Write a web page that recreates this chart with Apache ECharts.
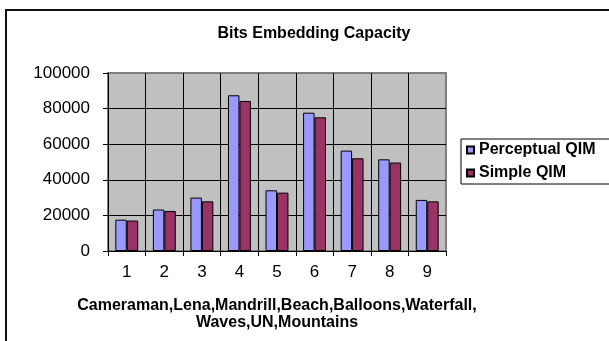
<!DOCTYPE html>
<html>
<head>
<meta charset="utf-8">
<script src="https://cdn.jsdelivr.net/npm/echarts@6/dist/echarts.min.js"></script>
<style>
html,body{margin:0;padding:0;background:#fff;}
#c{width:609px;height:341px;}
</style>
</head>
<body>
<div id="c"></div>
<script>
var categories = ['1','2','3','4','5','6','7','8','9'];
var perceptualQIM = [17600, 23300, 30000, 87500, 34100, 77700, 56400, 51500, 28700];
var simpleQIM = [17100, 22500, 27900, 84300, 32800, 75100, 52100, 49700, 27900];
var seriesNames = ['Perceptual QIM', 'Simple QIM'];
var titleText = 'Bits Embedding Capacity';
var xAxisName = 'Cameraman,Lena,Mandrill,Beach,Balloons,Waterfall,\nWaves,UN,Mountains';

var FONT = 'Liberation Sans, Arial, sans-serif';
var chart = echarts.init(document.getElementById('c'));
chart.setOption({
  backgroundColor: '#ffffff',
  animation: false,
  title: {
    text: titleText,
    left: 309,
    top: 21,
    textAlign: 'center',
    textStyle: {fontFamily: FONT, fontSize: 16, fontWeight: 'bold', color: '#000'}
  },
  legend: {
    orient: 'vertical',
    left: 461,
    top: 139,
    padding: [2, 20, 2, 5],
    itemGap: 5,
    itemWidth: 7,
    itemHeight: 7,
    icon: 'rect',
    borderColor: '#000',
    borderWidth: 1,
    textStyle: {fontFamily: FONT, fontSize: 16, fontWeight: 'bold', color: '#000', lineHeight: 18},
    data: seriesNames
  },
  graphic: [{
    type: 'rect',
    shape: {x: 6, y: 10, width: 700, height: 400},
    style: {fill: 'none', stroke: '#111', lineWidth: 2},
    silent: true
  }],
  grid: {
    left: 108, top: 73, right: 163, bottom: 90,
    show: true,
    backgroundColor: '#C0C0C0',
    borderColor: '#808080',
    borderWidth: 2
  },
  xAxis: {
    type: 'category',
    data: categories,
    name: xAxisName,
    nameLocation: 'middle',
    nameGap: 46,
    nameTextStyle: {fontFamily: FONT, fontSize: 16, fontWeight: 'bold', color: '#000', lineHeight: 17},
    axisLine: {lineStyle: {color: '#000', width: 1}},
    axisTick: {show: true, inside: false, length: 5, interval: 0, lineStyle: {color: '#000'}},
    axisLabel: {fontFamily: FONT, fontSize: 17, color: '#000', margin: 13, interval: 0},
    splitLine: {show: true, showMaxLine: false, interval: 0, lineStyle: {color: '#000', width: 1}}
  },
  yAxis: {
    type: 'value',
    min: 0, max: 100000, interval: 20000,
    axisLine: {show: true, lineStyle: {color: '#000', width: 1}},
    axisTick: {show: true, inside: false, length: 5, lineStyle: {color: '#000'}},
    axisLabel: {fontFamily: FONT, fontSize: 17, color: '#000', margin: 18,
      formatter: function (v) { return String(v); }},
    splitLine: {show: true, showMaxLine: false, lineStyle: {color: '#000', width: 1}}
  },
  series: [{
    name: seriesNames[0],
    type: 'bar',
    data: perceptualQIM,
    barGap: '0%',
    barCategoryGap: '39%',
    itemStyle: {color: '#9999FF', borderColor: '#000', borderWidth: 1}
  }, {
    name: seriesNames[1],
    type: 'bar',
    data: simpleQIM,
    barGap: '0%',
    barCategoryGap: '39%',
    itemStyle: {color: '#993366', borderColor: '#000', borderWidth: 1}
  }]
});
</script>
</body>
</html>
